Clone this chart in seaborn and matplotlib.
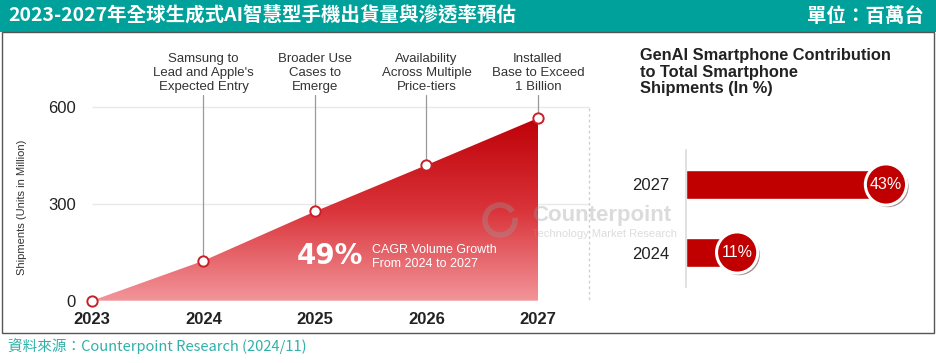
import numpy as np
import pandas as pd
import seaborn as sns
import matplotlib.pyplot as plt
import matplotlib.patheffects as pe
from matplotlib.patches import Rectangle, Arc
from matplotlib.colors import LinearSegmentedColormap

# ---------------- data ----------------
years = [2023, 2024, 2025, 2026, 2027]
shipments = [0, 124, 277, 421, 567]          # GenAI smartphone shipments (M)
milestones = [
    "Samsung to\nLead and Apple's\nExpected Entry",
    "Broader Use\nCases to\nEmerge",
    "Availability\nAcross Multiple\nPrice-tiers",
    "Installed\nBase to Exceed\n1 Billion",
]
share_years = ["2027", "2024"]
share_pct = [43, 11]

title = "2023-2027年全球生成式AI智慧型手機出貨量與滲透率預估"
unit = "單位：百萬台"
source = "資料來源：Counterpoint Research (2024/11)"

# ---------------- style ----------------
sns.set_theme(style="white")
plt.rcParams["font.family"] = ["Liberation Sans", "Noto Sans CJK TC", "DejaVu Sans"]
cjk = ["Noto Sans CJK TC", "DejaVu Sans"]

W, H = 936, 363
fig = plt.figure(figsize=(W / 100, H / 100), dpi=100)


def fx(x):
    return x / W


def fy(y):
    return 1 - y / H


teal = "#00A19A"
red = "#C00000"

# header band and frame
fig.patches.append(Rectangle((0, fy(32)), 1, 32 / H, transform=fig.transFigure,
                             facecolor=teal, edgecolor="none", zorder=0))
fig.patches.append(Rectangle((fx(2), fy(333)), fx(932), (333 - 32) / H, transform=fig.transFigure,
                             facecolor="none", edgecolor="#555555", lw=1.0, zorder=0))
fig.text(fx(8), fy(16), title, color="white", fontsize=14, fontweight="bold",
         family=cjk, va="center", ha="left")
fig.text(fx(924), fy(16), unit, color="white", fontsize=14, fontweight="bold",
         family=cjk, va="center", ha="right")
fig.text(fx(8), fy(346), source, color="#2FB0A8", fontsize=10.5,
         family=cjk, va="center", ha="left")

# ---------------- left: area chart ----------------
px_year = 111.5
px_unit = 193.3 / 600
ax_l, ax_r, ax_t, ax_b = 80, 590, 40, 305
ax = fig.add_axes([fx(ax_l), fy(ax_b), (ax_r - ax_l) / W, (ax_b - ax_t) / H])
x0 = 2023 - (92 - ax_l) / px_year
x1 = 2023 + (ax_r - 92) / px_year
y0 = -(ax_b - 300.7) / px_unit
y1 = (300.7 - ax_t) / px_unit

ax.hlines([300, 600], 2023, x1, color="#e8e8e8", lw=1, zorder=0)

fb = ax.fill_between(years, 0, shipments, color="none", lw=0)
cmap = LinearSegmentedColormap.from_list("redgrad", ["#F2959A", "#D93339", "#BE0008"])
grad = np.linspace(0, 1, 256).reshape(-1, 1)
img = ax.imshow(grad, extent=[2023, 2027, 0, max(shipments)], origin="lower",
                aspect="auto", cmap=cmap, zorder=1)
img.set_clip_path(fb.get_paths()[0], ax.transData)

df = pd.DataFrame({"year": years, "ship": shipments})
sns.scatterplot(data=df, x="year", y="ship", ax=ax, s=55, color="white",
                edgecolor="#C8202A", linewidth=1.4, zorder=4, clip_on=False)

for yr, val, txt in zip(years[1:], shipments[1:], milestones):
    ax.plot([yr, yr], [val, 638], color="#9a9a9a", lw=0.9, zorder=2)
    ax.text(yr, 707, txt, ha="center", va="center", fontsize=9.5,
            color="#333333", linespacing=1.2)

ax.text(2025.13, 139, "49%", color="white", fontsize=20, fontweight="bold",
        ha="center", va="center", zorder=5, family="DejaVu Sans")
ax.text(2025.51, 136, "CAGR Volume Growth\nFrom 2024 to 2027", color="white",
        fontsize=9, ha="left", va="center", zorder=5, linespacing=1.2)

ax.set_xlim(x0, x1)
ax.set_ylim(y0, y1)
ax.set_xticks(years)
ax.set_xticklabels([str(y) for y in years], fontsize=12, fontweight="bold", color="#222222")
ax.set_yticks([0, 300, 600])
ax.set_yticklabels(["0", "300", "600"], fontsize=12, color="#222222")
ax.tick_params(axis="both", length=0)
ax.tick_params(axis="x", pad=5)
ax.tick_params(axis="y", pad=3)
ax.set_xlabel("")
ax.set_ylabel("")
for s in ax.spines.values():
    s.set_visible(False)
ax.patch.set_alpha(0)
fig.text(fx(22), fy(207), "Shipments (Units in Million)", rotation=90, fontsize=8,
         color="#333333", ha="center", va="center")

# separator
fig.add_artist(plt.Line2D([fx(589), fx(589)], [fy(108), fy(300)], transform=fig.transFigure,
                          color="#d0d0d0", lw=1, ls=(0, (2, 2))))

# ---------------- right: share bars ----------------
r_l, r_r, r_t, r_b = 686, 930, 150, 287
px_pct = 4.65
axr = fig.add_axes([fx(r_l), fy(r_b), (r_r - r_l) / W, (r_b - r_t) / H])
dfr = pd.DataFrame({"year": share_years, "pct": share_pct})
sns.barplot(data=dfr, x="pct", y="year", orient="h", color=red, width=0.43,
            saturation=1, ax=axr, zorder=2)
sns.scatterplot(data=dfr, x="pct", y="year", ax=axr, s=880, color=red,
                edgecolor="white", linewidth=2.2, zorder=4, clip_on=False,
                path_effects=[pe.SimplePatchShadow(offset=(1.5, -1.5), alpha=0.45), pe.Normal()])
for i, (yr, p) in enumerate(zip(share_years, share_pct)):
    axr.text(p, i, f"{p}%", color="white", fontsize=11.5, ha="center", va="center", zorder=6)
axr.set_xlim(0, (r_r - r_l) / px_pct)
axr.set_ylim(1.507, -0.507)
axr.set_xticks([])
axr.set_xlabel("")
axr.set_ylabel("")
axr.tick_params(axis="y", length=0, pad=12, labelsize=12, labelcolor="#222222")
for k, s in axr.spines.items():
    s.set_visible(k == "left")
axr.spines["left"].set_color("#dddddd")
axr.patch.set_alpha(0)

fig.text(fx(640), fy(72), "GenAI Smartphone Contribution\nto Total Smartphone\nShipments (In %)",
         fontsize=11.8, fontweight="bold", color="#222222", ha="left", va="center",
         linespacing=1.1)

# watermark
wm = "#9a9a9a"
fig.text(fx(532), fy(215), "Counterpoint", fontsize=16, fontweight="bold", color=wm,
         alpha=0.35, ha="left", va="center", zorder=10)
fig.text(fx(532), fy(234), "Technology Market Research", fontsize=8, color=wm,
         alpha=0.35, ha="left", va="center", zorder=10)
fig.add_artist(Arc((fx(500), fy(220)), 30 / W, 30 / H, theta1=60, theta2=380,
                   transform=fig.transFigure, color=wm, lw=4, alpha=0.35, zorder=10))

fig.savefig("out.png", dpi=100)
